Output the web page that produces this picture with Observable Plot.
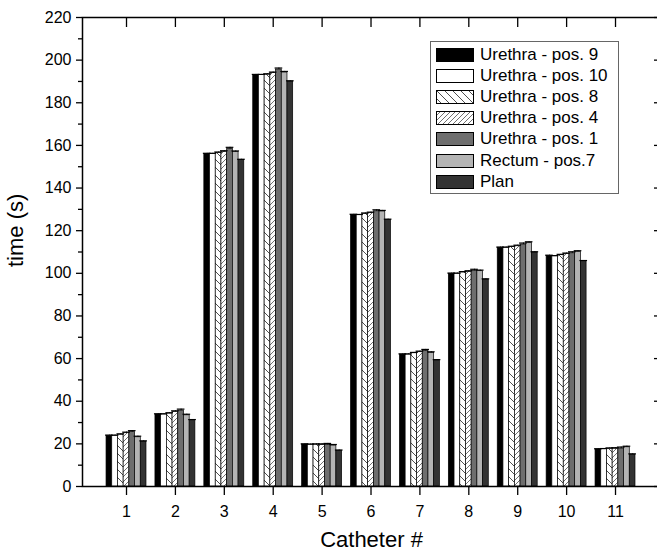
<!DOCTYPE html>
<html><head><meta charset="utf-8">
<script src="https://cdn.jsdelivr.net/npm/d3@7"></script>
<script src="https://cdn.jsdelivr.net/npm/@observablehq/plot@0.6"></script>
<style>
body{margin:0;background:#fff;font-family:"Liberation Sans",Arial,sans-serif;}
#wrap{position:relative;width:657px;height:556px;overflow:hidden;background:#fff}
#legend{position:absolute;left:430px;top:41px;width:187px;height:151px;border:1px solid #666;background:#fff}
.row{position:absolute;left:5px;height:14px;display:flex;align-items:center;white-space:nowrap;font-size:17px;color:#000}
.row svg{flex:none;margin-right:6px;display:block}
</style></head><body>
<svg width="0" height="0" style="position:absolute">
<defs>
<pattern id="hatch8" patternUnits="userSpaceOnUse" width="8" height="8">
<rect width="8" height="8" fill="#fff"/>
<path d="M0,0L8,8M-1,7L1,9M7,-1L9,1" stroke="#222" stroke-width="0.8"/>
</pattern>
<pattern id="hatch4" patternUnits="userSpaceOnUse" width="5" height="5">
<rect width="5" height="5" fill="#fff"/>
<path d="M0,5L5,0M-1,1L1,-1M4,6L6,4" stroke="#333" stroke-width="0.7"/>
</pattern>
</defs>
</svg>
<div id="wrap"><div id="chart"></div><div id="legend"></div></div>
<script>
const categories = [1,2,3,4,5,6,7,8,9,10,11];
const series = ["Urethra - pos. 9","Urethra - pos. 10","Urethra - pos. 8","Urethra - pos. 4","Urethra - pos. 1","Rectum - pos.7","Plan"];
const urethra9  = [23.8,33.8,156.0,193.0,19.7,127.4,61.9,99.8,112.0,108.2,17.4];
const urethra10 = [23.8,33.8,156.0,193.0,19.6,127.3,61.9,99.8,112.0,108.0,17.5];
const urethra8  = [24.3,34.2,156.5,193.2,19.6,127.9,62.5,100.4,112.3,108.5,17.7];
const urethra4  = [25.0,35.0,157.0,193.9,19.5,128.2,63.0,100.7,112.7,109.0,17.7];
const urethra1  = [25.5,35.6,158.4,195.6,19.5,129.1,63.6,101.2,113.5,109.4,17.8];
const rectum7   = [23.1,33.4,156.9,194.2,19.2,129.0,62.7,101.0,114.3,110.1,18.4];
const plan      = [21.1,31.1,153.2,190.0,16.8,125.1,59.2,97.1,109.8,105.7,15.0];
const errs = [0.3,0.3,0.4,0.5,0.7,0.5,0.3];
const values = [urethra9,urethra10,urethra8,urethra4,urethra1,rectum7,plan];
const fills = ["#000","#fff","url(#hatch8)","url(#hatch4)","#6e6e6e","#b4b4b4","#333"];
const majorTicks = d3.range(0,221,20);
const minorTicks = d3.range(10,220,20);

const bw = 0.1167;
const rows = [];
categories.forEach((c,gi)=>series.forEach((s,si)=>rows.push({cat:c,si,series:s,value:values[si][gi],err:errs[si]})));
const X1 = d => d.cat + (d.si-3.5)*bw;
const X2 = d => d.cat + (d.si-2.5)*bw;

const font = '"Liberation Sans",Arial,sans-serif';
const chart = Plot.plot({
  width:657, height:556,
  marginLeft:82, marginRight:-3, marginTop:17, marginBottom:70,
  style:{fontFamily:font, background:"#fff", color:"#000", overflow:"visible"},
  x:{domain:[0.1,11.92], axis:null},
  y:{domain:[0,220], axis:null},
  marks:[
    ...series.map((s,si)=>Plot.rect(rows.filter(d=>d.si===si),{x1:X1,x2:X2,y1:()=>0,y2:"value",fill:fills[si],stroke:"#000",strokeWidth:0.7})),
    Plot.ruleX(rows,{x:d=>(X1(d)+X2(d))/2,y1:"value",y2:d=>d.value+d.err,stroke:"#000",strokeWidth:1}),
    Plot.ruleY(rows,{y:d=>d.value+d.err,x1:d=>X1(d)-0.02,x2:d=>X2(d)+0.02,stroke:"#000",strokeWidth:1.2}),
    Plot.frame({stroke:"#000",strokeWidth:1.5}),
    Plot.axisY({ticks:majorTicks,tickSize:6,tickPadding:5,fontSize:16,label:null,strokeWidth:1.3}),
    Plot.axisY({ticks:minorTicks,tickSize:4,text:null,label:null,strokeWidth:1.3}),
    Plot.axisY({anchor:"right",ticks:majorTicks,tickSize:7,dx:-7,text:null,label:null,strokeWidth:1.3}),
    Plot.axisY({anchor:"right",ticks:minorTicks,tickSize:4,dx:-4,text:null,label:null,strokeWidth:1.3}),
    Plot.axisX({ticks:categories,tickSize:9,tickPadding:10,fontSize:16,label:null,strokeWidth:1.3}),
    Plot.axisX({anchor:"top",ticks:categories,tickSize:9,dy:9,text:null,label:null,strokeWidth:1.3}),
    Plot.text(["Catheter #"],{frameAnchor:"bottom",dy:60,fontSize:22,text:d=>d,fill:"#000"}),
    Plot.text(["time (s)"],{frameAnchor:"left",dx:-67,dy:15,rotate:-90,fontSize:22,text:d=>d,fill:"#000"})
  ]
});
document.getElementById("chart").appendChild(chart);

const leg = document.getElementById("legend");
series.forEach((s,si)=>{
  const row = document.createElement("div");
  row.className="row";
  row.style.top = (6 + si*21.1) + "px";
  row.innerHTML = `<svg width="38" height="14"><rect x="0.5" y="0.5" width="37" height="13" fill="${fills[si]}" stroke="#000" stroke-width="1"/></svg><span>${s}</span>`;
  leg.appendChild(row);
});
</script>
</body></html>
